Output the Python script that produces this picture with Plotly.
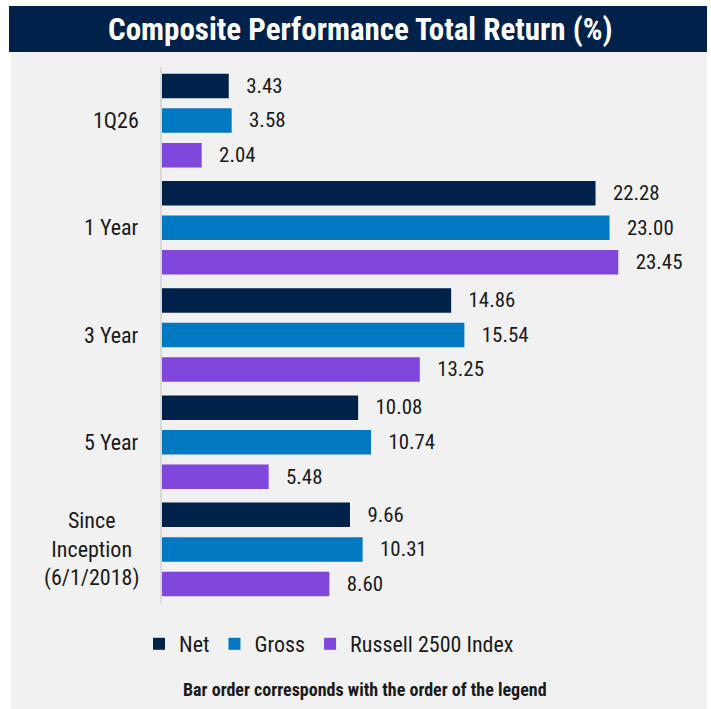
import plotly.graph_objects as go

categories = ["1Q26", "1 Year", "3 Year", "5 Year", "Since<br>Inception<br>(6/1/2018)"]
net = [3.43, 22.28, 14.86, 10.08, 9.66]
gross = [3.58, 23.00, 15.54, 10.74, 10.31]
russell = [2.04, 23.45, 13.25, 5.48, 8.60]
series_names = ["Net", "Gross", "Russell 2500 Index"]
series_colors = ["#00214a", "#0078c2", "#7f47db"]

W, H = 711, 709
FONT = "Liberation Sans Narrow, Roboto Condensed, Arial Narrow, Liberation Sans, sans-serif"

fig = go.Figure()
for name, vals, col in zip(series_names, [net, gross, russell], series_colors):
    fig.add_trace(go.Bar(
        y=categories, x=vals, name=name, orientation="h",
        marker=dict(color=col, line=dict(width=0)),
        text=vals, texttemplate="   %{x:.2f}", textposition="outside",
        textfont=dict(size=23, color="#1a1a1a", family=FONT),
        cliponaxis=False,
    ))

# category labels (centered multi-line) via annotations on the category axis
for c in categories:
    fig.add_annotation(x=141 / W, xref="paper", y=c, yref="y", text=c,
                       showarrow=False, xanchor="right", yanchor="middle", align="center",
                       font=dict(size=22, color="#1a1a1a", family=FONT))

fig.add_annotation(x=365 / W, y=1 - 689 / H, xref="paper", yref="paper",
                   xanchor="center", yanchor="middle",
                   text="<b>Bar order corresponds with the order of the legend</b>",
                   showarrow=False, font=dict(size=18, color="#1a1a1a", family=FONT))

fig.add_annotation(x=360 / W, y=1 - 29 / H, xref="paper", yref="paper",
                   xanchor="center", yanchor="middle",
                   text="<b>Composite Performance Total Return (%)</b>",
                   showarrow=False, font=dict(size=31, color="white", family=FONT))

shapes = [
    dict(type="rect", xref="paper", yref="paper", x0=11 / W, x1=707 / W, y0=0, y1=1 - 52 / H,
         fillcolor="#f1f1f1", line=dict(width=0), layer="below"),
    dict(type="rect", xref="paper", yref="paper", x0=9 / W, x1=707 / W, y0=1 - 52 / H, y1=1 - 6 / H,
         fillcolor="#00214a", line=dict(width=0), layer="below"),
]

fig.update_layout(
    width=W, height=H, margin=dict(l=0, r=0, t=0, b=0),
    paper_bgcolor="white", plot_bgcolor="rgba(0,0,0,0)",
    barmode="group", bargap=0.033, bargroupgap=0.29,
    shapes=shapes,
    font=dict(family=FONT, color="#1a1a1a"),
    xaxis=dict(domain=[162 / W, 701 / W], range=[0, 27.7], visible=False),
    yaxis=dict(domain=[1 - 603 / H, 1 - 67 / H], autorange="reversed",
               showticklabels=False, showline=True, linecolor="#d9d9d9", linewidth=2,
               ticks="", showgrid=False, zeroline=False),
    legend=dict(orientation="h", x=329 / W, xanchor="center", y=1 - 644 / H, yanchor="middle",
                font=dict(size=22, family=FONT, color="#1a1a1a"), bgcolor="rgba(0,0,0,0)",
                itemwidth=30, traceorder="normal"),
)

fig.write_html("out.html")
